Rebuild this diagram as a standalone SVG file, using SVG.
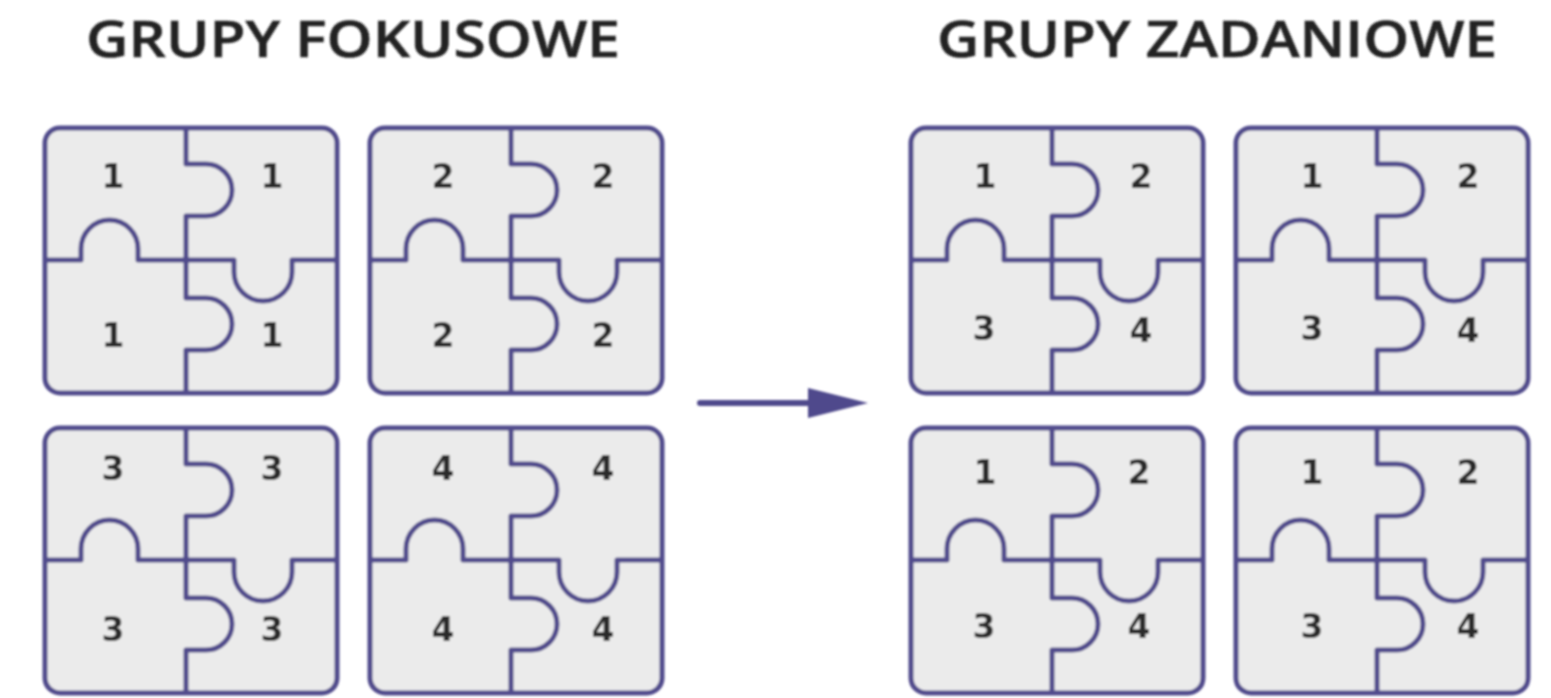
<svg xmlns="http://www.w3.org/2000/svg" xmlns:xlink="http://www.w3.org/1999/xlink" width="1551" height="698" viewBox="0 0 1551 698">
<style>
.p{fill:#ebebeb;stroke:#514c8c;stroke-width:5;stroke-linejoin:round}
.s{fill:none;stroke:#514c8c;stroke-width:5;stroke-linejoin:round}
.t{font-family:"Open Sans","Liberation Sans",sans-serif;font-weight:600;font-size:50px;fill:#222;stroke:#222;stroke-width:.5}
.n{font-family:"DejaVu Sans","Liberation Sans",sans-serif;font-weight:700;font-size:33px;fill:#2b2b2b;text-anchor:middle;dominant-baseline:central}
.a{stroke:#4f4a8c;stroke-width:6;stroke-linecap:round;fill:none}
</style>
<defs>
<filter id="b" x="-5%" y="-5%" width="110%" height="110%"><feGaussianBlur stdDeviation="0.8"/></filter>
<g id="puzzle">
<rect class="p" x="0" y="0" width="292" height="265" rx="15" ry="15"/>
<path class="s" d="M141 0V36H161A26 26 0 0 1 161 88H141V170H161A26 26 0 0 1 161 222H141V265"/>
<path class="s" d="M0 132H36V121A28.500 29 0 0 1 93 121V132H189V144A29 29 0 0 0 247 144V132H292"/>
</g>
<marker id="h" markerUnits="userSpaceOnUse" markerWidth="62" markerHeight="32" refX="2" refY="15" orient="auto"><path d="M0 0L60 15L0 30Z" fill="#4f4a8c"/></marker>
</defs>
<g filter="url(#b)">
<text class="t" x="86" y="57" textLength="534" lengthAdjust="spacingAndGlyphs">GRUPY FOKUSOWE</text>
<text class="t" x="937" y="57" textLength="560" lengthAdjust="spacingAndGlyphs">GRUPY ZADANIOWE</text>
<g id="left-1"><use xlink:href="#puzzle" x="45" y="128"/><text class="n" x="113" y="176">1</text><text class="n" x="272" y="176">1</text><text class="n" x="113" y="335">1</text><text class="n" x="272" y="335">1</text></g>
<g id="left-2"><use xlink:href="#puzzle" x="370" y="128"/><text class="n" x="443" y="176">2</text><text class="n" x="603" y="176">2</text><text class="n" x="443" y="335">2</text><text class="n" x="603" y="335">2</text></g>
<g id="left-3"><use xlink:href="#puzzle" x="45" y="428"/><text class="n" x="113" y="468">3</text><text class="n" x="272" y="468">3</text><text class="n" x="113" y="629">3</text><text class="n" x="272" y="629">3</text></g>
<g id="left-4"><use xlink:href="#puzzle" x="370" y="428"/><text class="n" x="443" y="468">4</text><text class="n" x="603" y="468">4</text><text class="n" x="443" y="629">4</text><text class="n" x="603" y="629">4</text></g>
<g id="right-1"><use xlink:href="#puzzle" x="911" y="128"/><text class="n" x="985" y="176">1</text><text class="n" x="1141" y="176">2</text><text class="n" x="984" y="328">3</text><text class="n" x="1141" y="330">4</text></g>
<g id="right-2"><use xlink:href="#puzzle" x="1236" y="128"/><text class="n" x="1312" y="176">1</text><text class="n" x="1468" y="176">2</text><text class="n" x="1312" y="328">3</text><text class="n" x="1468" y="330">4</text></g>
<g id="right-3"><use xlink:href="#puzzle" x="911" y="428"/><text class="n" x="985" y="472">1</text><text class="n" x="1139" y="472">2</text><text class="n" x="984" y="626">3</text><text class="n" x="1139" y="626">4</text></g>
<g id="right-4"><use xlink:href="#puzzle" x="1236" y="428"/><text class="n" x="1312" y="472">1</text><text class="n" x="1468" y="472">2</text><text class="n" x="1312" y="626">3</text><text class="n" x="1468" y="626">4</text></g>
<g id="connectors"><line class="a" x1="700" y1="403" x2="810" y2="403" marker-end="url(#h)"/></g>
</g>
</svg>
